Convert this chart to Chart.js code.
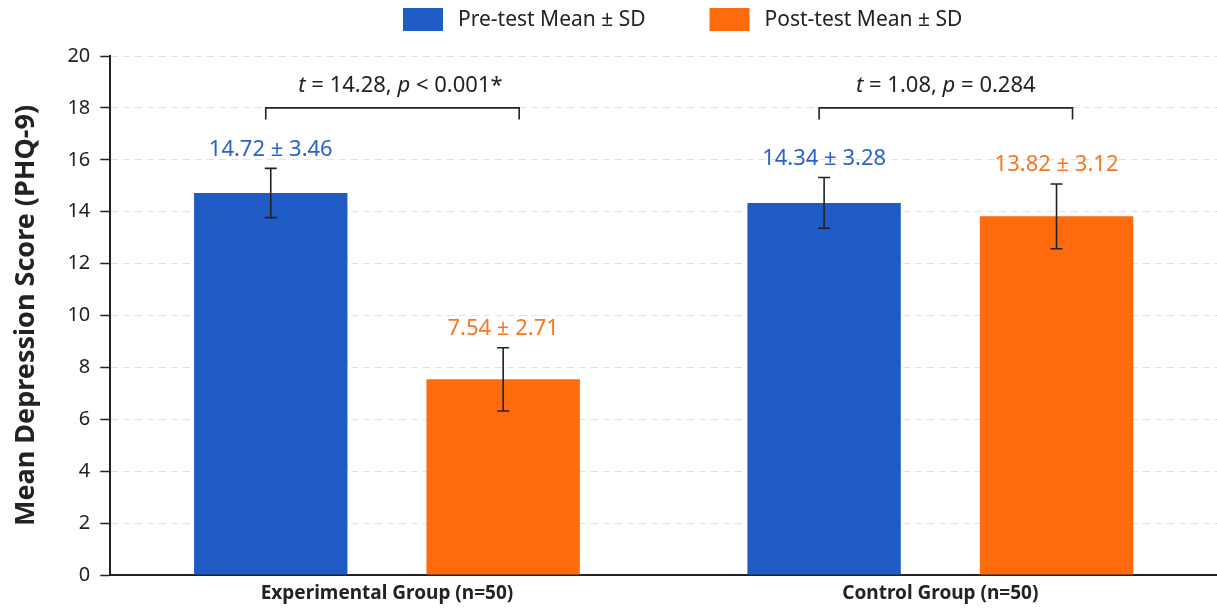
<!DOCTYPE html>
<html>
<head>
<meta charset="utf-8">
<script src="https://cdn.jsdelivr.net/npm/chart.js@4.4.1/dist/chart.umd.min.js"></script>
<style>
  body { margin: 0; background: #fff; }
  #wrap { width: 1217px; height: 609px; }
</style>
</head>
<body>
<div id="wrap"><canvas id="chart"></canvas></div>
<script>
// Daten
const groups = ['Experimental Group (n=50)', 'Control Group (n=50)'];
const seriesLabels = ['Pre-test Mean ± SD', 'Post-test Mean ± SD'];
const preMeans = [14.72, 14.34];
const postMeans = [7.54, 13.82];
const preSD = [3.46, 3.28];
const postSD = [2.71, 3.12];
// Fehlerbalken wie im Bild gezeichnet (halbe Länge)
const preErr = [0.95, 0.98];
const postErr = [1.22, 1.25];
const tStats = ['14.28', '1.08'];
const pStats = ['< 0.001*', '= 0.284'];
const yTicks = [0, 2, 4, 6, 8, 10, 12, 14, 16, 18, 20];

const FONT = '"Noto Sans", "DejaVu Sans", sans-serif';
const barColors = ['#1f5bc5', '#fd6b0c'];
const textColors = ['#2a62cc', '#f8761f'];
const bracketLevel = 18;

// Fehlerbalken, Werte, Klammern und Legende
const annotate = {
    id: 'annotate',
    afterDatasetsDraw(chart) {
        const ctx = chart.ctx;
        const y = chart.scales.y;
        const pre = chart.getDatasetMeta(0).data;
        const post = chart.getDatasetMeta(1).data;
        const sets = [
            [pre, preMeans, preErr, preSD, textColors[0]],
            [post, postMeans, postErr, postSD, textColors[1]]
        ];

        ctx.save();
        sets.forEach(([bars, means, errs, sds, color]) => {
            bars.forEach((bar, i) => {
                const yTop = y.getPixelForValue(means[i] + errs[i]);
                const yBot = y.getPixelForValue(means[i] - errs[i]);
                ctx.strokeStyle = '#222';
                ctx.lineWidth = 1.6;
                ctx.beginPath();
                ctx.moveTo(bar.x, yTop);
                ctx.lineTo(bar.x, yBot);
                ctx.moveTo(bar.x - 6, yTop);
                ctx.lineTo(bar.x + 6, yTop);
                ctx.moveTo(bar.x - 6, yBot);
                ctx.lineTo(bar.x + 6, yBot);
                ctx.stroke();

                ctx.fillStyle = color;
                ctx.font = `22px ${FONT}`;
                ctx.textAlign = 'center';
                ctx.textBaseline = 'middle';
                ctx.fillText(`${means[i].toFixed(2)} ± ${sds[i].toFixed(2)}`, bar.x, yTop - 19);
            });
        });

        // Signifikanz-Klammern
        groups.forEach((g, i) => {
            const x1 = pre[i].x - 5;
            const x2 = post[i].x + 16;
            const yb = y.getPixelForValue(bracketLevel);
            const yd = y.getPixelForValue(bracketLevel - 0.45);
            ctx.strokeStyle = '#222';
            ctx.lineWidth = 1.6;
            ctx.beginPath();
            ctx.moveTo(x1, yd);
            ctx.lineTo(x1, yb);
            ctx.lineTo(x2, yb);
            ctx.lineTo(x2, yd);
            ctx.stroke();

            const parts = [
                ['t', true], [` = ${tStats[i]}, `, false],
                ['p', true], [` ${pStats[i]}`, false]
            ];
            const fontOf = it => `${it ? 'italic ' : ''}22px ${FONT}`;
            let total = 0;
            parts.forEach(([s, it]) => { ctx.font = fontOf(it); total += ctx.measureText(s).width; });
            let x = (x1 + x2) / 2 - total / 2 + (i === 0 ? 8 : 0);
            const ty = y.getPixelForValue(bracketLevel + 0.85);
            ctx.fillStyle = '#222';
            ctx.textAlign = 'left';
            ctx.textBaseline = 'middle';
            parts.forEach(([s, it]) => {
                ctx.font = fontOf(it);
                ctx.fillText(s, x, ty);
                x += ctx.measureText(s).width;
            });
        });

        // Legende oben
        let lx = 403;
        chart.data.datasets.forEach((ds, i) => {
            ctx.fillStyle = ds.backgroundColor;
            ctx.fillRect(lx, 8, 40, 23);
            ctx.font = `21px ${FONT}`;
            ctx.fillStyle = '#222';
            ctx.textAlign = 'left';
            ctx.textBaseline = 'middle';
            ctx.fillText(ds.label, lx + 55, 20);
            lx += 55 + ctx.measureText(ds.label).width + 64;
        });
        ctx.restore();
    }
};

new Chart(document.getElementById('chart'), {
    type: 'bar',
    data: {
        labels: groups,
        datasets: [
            { label: seriesLabels[0], data: preMeans, backgroundColor: barColors[0] },
            { label: seriesLabels[1], data: postMeans, backgroundColor: barColors[1] }
        ]
    },
    options: {
        responsive: true,
        maintainAspectRatio: false,
        animation: false,
        categoryPercentage: 0.84,
        barPercentage: 0.66,
        layout: { padding: { top: 56, left: 10, right: 0, bottom: 5 } },
        plugins: {
            legend: { display: false },
            tooltip: { enabled: false }
        },
        scales: {
            x: {
                grid: { display: false },
                border: { display: true, color: '#222', width: 2 },
                ticks: {
                    color: '#222',
                    padding: 1,
                    font: { family: FONT, size: 19, weight: 'bold', lineHeight: 1 }
                }
            },
            y: {
                min: 0,
                max: 20,
                afterBuildTicks: axis => { axis.ticks = yTicks.map(v => ({ value: v })); },
                grid: {
                    color: '#e2e2e2',
                    lineWidth: 1,
                    tickLength: 10,
                    tickColor: '#222',
                    tickWidth: 1.5,
                    tickBorderDash: []
                },
                border: { display: true, color: '#222', width: 2, dash: [7, 5] },
                ticks: {
                    color: '#222',
                    padding: 10,
                    font: { family: FONT, size: 20 }
                },
                title: {
                    display: true,
                    text: 'Mean Depression Score (PHQ-9)',
                    color: '#222',
                    padding: { top: 0, bottom: 15 },
                    font: { family: FONT, size: 27, weight: 'bold' }
                }
            }
        }
    },
    plugins: [annotate]
});
</script>
</body>
</html>
